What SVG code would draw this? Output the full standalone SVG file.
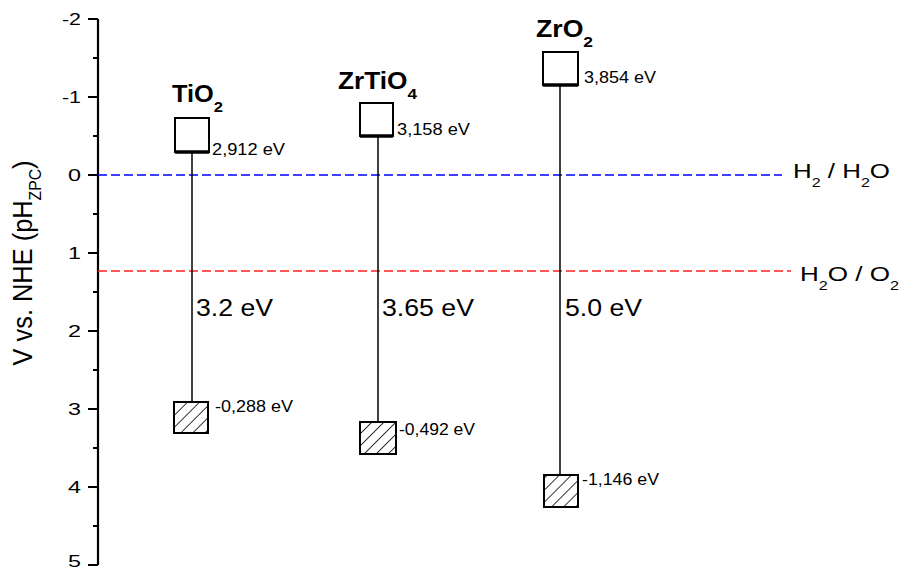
<svg xmlns="http://www.w3.org/2000/svg" width="903" height="571" viewBox="0 0 903 571">
<style>
text{font-family:"Liberation Sans",Arial,sans-serif;fill:#000}
.tick{font-size:17px;text-anchor:end}
.name{font-size:23px;font-weight:bold}
.ev{font-size:16px}
.gap{font-size:24px}
.lbl{font-size:21px}
.ax{stroke:#000;stroke-width:2.2;fill:none}
.box{fill:#fff;stroke:#000;stroke-width:2}
.hbox{fill:url(#hatch);stroke:#000;stroke-width:2}
.vl{stroke:#000;stroke-width:1.5}
.cb{stroke:#000;stroke-width:3.5}
</style>
<defs>
<pattern id="hatch" patternUnits="userSpaceOnUse" width="8.5" height="8.5" patternTransform="rotate(45)">
<rect width="8.5" height="8.5" fill="#fff"/>
<line x1="0" y1="0" x2="0" y2="8.5" stroke="#000" stroke-width="1.6"/>
</pattern>
</defs>
<rect width="903" height="571" fill="#fff"/>
<g id="axis">
<line class="ax" x1="98" y1="19" x2="98" y2="565"/>
<path class="ax" d="M88 19H98M88 97H98M88 175H98M88 253H98M88 331H98M88 409H98M88 487H98M88 565H98M93 58H98M93 136H98M93 214H98M93 292H98M93 370H98M93 448H98M93 526H98"/>
<text class="tick" x="81" y="25" textLength="19" lengthAdjust="spacingAndGlyphs">-2</text>
<text class="tick" x="81" y="103" textLength="19" lengthAdjust="spacingAndGlyphs">-1</text>
<text class="tick" x="81" y="181" textLength="13" lengthAdjust="spacingAndGlyphs">0</text>
<text class="tick" x="81" y="259" textLength="13" lengthAdjust="spacingAndGlyphs">1</text>
<text class="tick" x="81" y="337" textLength="13" lengthAdjust="spacingAndGlyphs">2</text>
<text class="tick" x="81" y="415" textLength="13" lengthAdjust="spacingAndGlyphs">3</text>
<text class="tick" x="81" y="493" textLength="13" lengthAdjust="spacingAndGlyphs">4</text>
<text class="tick" x="81" y="567" textLength="13" lengthAdjust="spacingAndGlyphs">5</text>
<text transform="translate(32,263) scale(1.3,1) rotate(-90)" font-size="21" text-anchor="middle" textLength="205" lengthAdjust="spacingAndGlyphs">V vs. NHE (pH<tspan font-size="13" dy="7">ZPC</tspan><tspan dy="-7">)</tspan></text>
</g>
<g id="ref-lines">
<line x1="98" y1="175" x2="782" y2="175" stroke="#0000ff" stroke-width="1.6" stroke-dasharray="9,4"/>
<line x1="98" y1="271" x2="791" y2="271" stroke="#ff2020" stroke-width="1.6" stroke-dasharray="9,4"/>
<text class="lbl" x="793" y="178" textLength="97" lengthAdjust="spacingAndGlyphs">H<tspan font-size="13" dy="9">2</tspan><tspan dy="-9"> / H</tspan><tspan font-size="13" dy="9">2</tspan><tspan dy="-9">O</tspan></text>
<text class="lbl" x="800" y="281" textLength="99" lengthAdjust="spacingAndGlyphs">H<tspan font-size="13" dy="9">2</tspan><tspan dy="-9">O / O</tspan><tspan font-size="13" dy="9">2</tspan></text>
</g>
<g id="connectors">
<line class="vl" x1="192" y1="152" x2="192" y2="402"/>
<line class="vl" x1="378" y1="136" x2="378" y2="422"/>
<line class="vl" x1="560" y1="85" x2="560" y2="475"/>
</g>
<g id="TiO2">
<text class="name" x="172" y="102" textLength="51" lengthAdjust="spacingAndGlyphs">TiO<tspan font-size="15" dy="10">2</tspan></text>
<rect class="box" x="175" y="118" width="34" height="34"/>
<line class="cb" x1="175" y1="152" x2="209" y2="152"/>
<text class="ev" x="212" y="155" textLength="73" lengthAdjust="spacingAndGlyphs">2,912 eV</text>
<text class="gap" x="196" y="316" textLength="77" lengthAdjust="spacingAndGlyphs">3.2 eV</text>
<rect class="hbox" x="174" y="402" width="34" height="31"/>
<text class="ev" x="215" y="412" textLength="78" lengthAdjust="spacingAndGlyphs">-0,288 eV</text>
</g>
<g id="ZrTiO4">
<text class="name" x="338" y="89" textLength="79" lengthAdjust="spacingAndGlyphs">ZrTiO<tspan font-size="15" dy="10">4</tspan></text>
<rect class="box" x="360" y="103" width="33" height="33"/>
<line class="cb" x1="360" y1="136" x2="393" y2="136"/>
<text class="ev" x="397" y="135" textLength="73" lengthAdjust="spacingAndGlyphs">3,158 eV</text>
<text class="gap" x="382" y="316" textLength="92" lengthAdjust="spacingAndGlyphs">3.65 eV</text>
<rect class="hbox" x="360" y="422" width="36" height="32"/>
<text class="ev" x="399" y="435" textLength="76" lengthAdjust="spacingAndGlyphs">-0,492 eV</text>
</g>
<g id="ZrO2">
<text class="name" x="536" y="37" textLength="57" lengthAdjust="spacingAndGlyphs">ZrO<tspan font-size="15" dy="10">2</tspan></text>
<rect class="box" x="543" y="52" width="35" height="33"/>
<line class="cb" x1="543" y1="85" x2="578" y2="85"/>
<text class="ev" x="584" y="83" textLength="72" lengthAdjust="spacingAndGlyphs">3,854 eV</text>
<text class="gap" x="565" y="316" textLength="77" lengthAdjust="spacingAndGlyphs">5.0 eV</text>
<rect class="hbox" x="544" y="475" width="34" height="32"/>
<text class="ev" x="582" y="485" textLength="77" lengthAdjust="spacingAndGlyphs">-1,146 eV</text>
</g>
</svg>
